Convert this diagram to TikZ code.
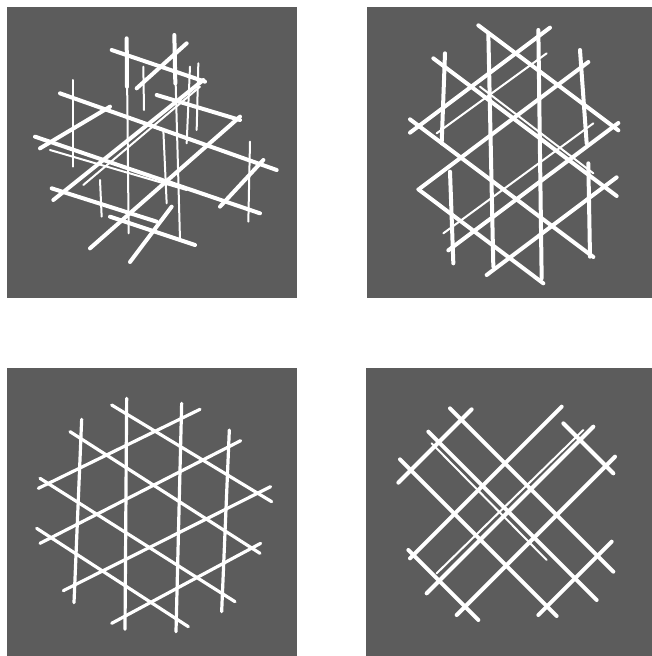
\documentclass[tikz,border=0pt]{standalone}
\begin{document}
\begin{tikzpicture}[x=1pt,y=-1pt,
  rod/.style={draw=white,line width=4pt,line cap=round},
  thinrod/.style={draw=white,line width=2pt,line cap=round},
  midrod/.style={draw=white,line width=3.2pt,line cap=round},
  panel/.style={fill=bggray}]
\definecolor{bggray}{gray}{0.36}
\useasboundingbox (0,0) rectangle (652,656);
\fill[white] (0,0) rectangle (652,656);
% panels
\fill[panel] (7,7) rectangle (297,298);
\fill[panel] (367,7) rectangle (652,298);
\fill[panel] (7,368) rectangle (297,656);
\fill[panel] (366,368) rectangle (652,656);

% ---------- top left: oblique cubic lattice ----------
\begin{scope}[shift={(0,0)},scale=1/3]
  % vertical rods
  \draw[thinrod] (380,115) -- (386,700);
  \draw[thinrod] (523,105) -- (540,720);
  \draw[thinrod] (570,200) -- (560,430);
  \draw[thinrod] (595,190) -- (590,390);
  \draw[thinrod] (220,240) -- (220,500);
  \draw[thinrod] (430,200) -- (432,330);
  \draw[thinrod] (490,390) -- (500,610);
  \draw[thinrod] (750,425) -- (745,665);
  \draw[thinrod] (300,540) -- (305,650);
  \draw[rod] (380,115) -- (381,260);
  \draw[rod] (523,105) -- (526,250);
  % depth rods
  \draw[thinrod] (250,555) -- (600,260);
  \draw[rod] (410,265) -- (560,130);
  \draw[rod] (120,445) -- (330,320);
  \draw[rod] (160,600) -- (610,240);
  \draw[rod] (270,745) -- (720,350);
  \draw[rod] (660,620) -- (790,480);
  \draw[rod] (390,786) -- (515,620);
  % horizontal rods
  \draw[rod] (335,150) -- (615,245);
  \draw[rod] (180,280) -- (830,510);
  \draw[rod] (470,285) -- (720,360);
  \draw[rod] (105,410) -- (780,640);
  \draw[thinrod] (150,450) -- (560,570);
  \draw[rod] (155,565) -- (470,665);
  \draw[rod] (330,650) -- (585,735);
\end{scope}

% ---------- top right ----------
\begin{scope}[shift={(360,0)},scale=1/3]
  % verticals
  \draw[rod] (255,160) -- (245,430);
  \draw[rod] (270,515) -- (280,790);
  \draw[rod] (385,100) -- (400,800);
  \draw[rod] (535,90) -- (545,835);
  \draw[rod] (660,150) -- (680,430);
  \draw[rod] (685,490) -- (690,770);
  % up-right diagonals
  \draw[rod] (150,398) -- (570,83);
  \draw[rod] (180,565) -- (685,186);
  \draw[rod] (265,751) -- (775,369);
  \draw[rod] (380,825) -- (770,532);
  \draw[thinrod] (230,400) -- (560,160);
  \draw[thinrod] (250,700) -- (700,370);
  % down-right diagonals
  \draw[rod] (355,76) -- (775,391);
  \draw[rod] (220,175) -- (770,588);
  \draw[rod] (150,358) -- (700,771);
  \draw[rod] (175,568) -- (550,850);
  \draw[thinrod] (360,260) -- (700,520);
\end{scope}

% ---------- bottom left: kagome ----------
\begin{scope}[shift={(0,360)},scale=1/3]
  \draw[midrod] (245,178) -- (222,728);
  \draw[midrod] (380,115) -- (375,808);
  \draw[midrod] (545,130) -- (528,815);
  \draw[midrod] (688,210) -- (665,755);
  \draw[midrod] (115,385) -- (600,148);
  \draw[midrod] (120,550) -- (722,242);
  \draw[midrod] (190,692) -- (812,380);
  \draw[midrod] (335,790) -- (782,550);
  \draw[midrod] (335,135) -- (815,425);
  \draw[midrod] (210,215) -- (780,580);
  \draw[midrod] (120,355) -- (705,725);
  \draw[midrod] (110,505) -- (565,800);
\end{scope}

% ---------- bottom right: square lattice at 45 deg ----------
\begin{scope}[shift={(360,360)},scale=1/3]
  % down-right
  \draw[rod] (610,190) -- (760,340);
  \draw[rod] (270,145) -- (760,635);
  \draw[rod] (205,215) -- (710,720);
  \draw[rod] (120,298) -- (590,768);
  \draw[rod] (145,570) -- (355,780);
  \draw[thinrod] (215,250) -- (560,600);
  % up-right
  \draw[rod] (115,368) -- (335,148);
  \draw[rod] (150,595) -- (605,140);
  \draw[rod] (200,700) -- (700,200);
  \draw[rod] (290,765) -- (765,290);
  \draw[rod] (535,765) -- (755,545);
  \draw[thinrod] (230,640) -- (670,210);
\end{scope}
\end{tikzpicture}
\end{document}
